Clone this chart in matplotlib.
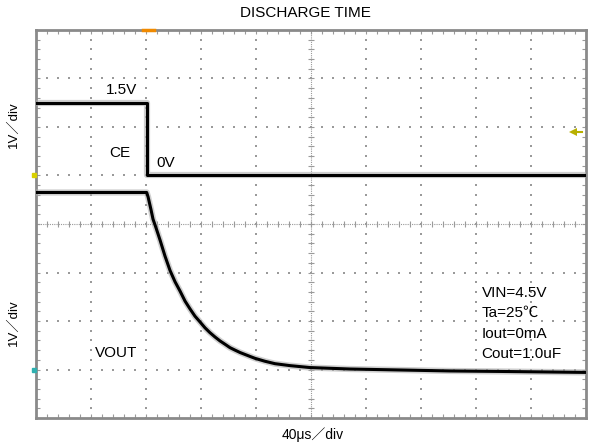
import numpy as np
import matplotlib.pyplot as plt

# =========================
# DATA (time in us, voltage in V)
# =========================
ce_t = [0, 80.5, 80.5, 400]
ce_v = [1.5, 1.5, 0.0, 0.0]

vout_t = [0, 80.5, 81.5, 83.6, 85.1, 87.3, 90.2, 93.8, 97.5, 101.1, 104.7,
          108.4, 112.0, 115.6, 119.3, 122.9, 126.5, 130.2, 133.8, 137.5, 141.1,
          144.7, 148.4, 152.0, 155.6, 159.3, 162.9, 166.5, 173.8, 184.7, 199.3,
          228.4, 264.7, 301.1, 337.5, 400]
vout_v = [3.65, 3.65, 3.56, 3.30, 3.10, 2.92, 2.67, 2.34, 2.04, 1.81, 1.62,
          1.41, 1.25, 1.10, 0.98, 0.86, 0.76, 0.67, 0.59, 0.52, 0.45,
          0.40, 0.35, 0.31, 0.27, 0.23, 0.20, 0.17, 0.12, 0.08, 0.04,
          0.01, -0.01, -0.03, -0.04, -0.06]

CE_ZERO = 5.0      # div position of CE ground
VOUT_ZERO = 1.0    # div position of VOUT ground
US_PER_DIV = 40.0
CE_TRIG = 0.9      # trigger level on CE (V)

conditions = ["VIN=4.5V", "Ta=25℃", "Iout=0mA", "Cout=1.0uF"]

FONT = ["Liberation Sans", "Noto Sans CJK JP", "DejaVu Sans"]
plt.rcParams["font.family"] = FONT

# =========================
# FIGURE
# =========================
fig = plt.figure(figsize=(5.9, 4.48), dpi=100)
ax = fig.add_axes([36 / 590, 30 / 448, 550 / 590, 388 / 448])
ax.set_xlim(0, 10)
ax.set_ylim(0, 8)

grid_col = "#9a9a9a"

# dotted grid (dots every 0.2 div)
sub = np.arange(0, 10.01, 0.2)
for gy in range(1, 8):
    if gy == 4:
        continue
    ax.scatter(sub, np.full_like(sub, gy), s=1.3, marker="s", color=grid_col, lw=0, zorder=1)
sub_y = np.arange(0, 8.01, 0.2)
for gx in range(1, 10):
    if gx == 5:
        continue
    ax.scatter(np.full_like(sub_y, gx), sub_y, s=1.3, marker="s", color=grid_col, lw=0, zorder=1)

# centre cross with tick marks
ax.axhline(4, color=grid_col, lw=0.8, ls=(0, (1, 1)), zorder=1)
ax.axvline(5, color=grid_col, lw=0.8, ls=(0, (1, 1)), zorder=1)
ax.plot(sub, np.full_like(sub, 4), ls="none", marker="|", ms=5, mew=0.8, color=grid_col, zorder=1)
ax.plot(np.full_like(sub_y, 5), sub_y, ls="none", marker="_", ms=5, mew=0.8, color=grid_col, zorder=1)

# frame + inside ticks
for s in ax.spines.values():
    s.set_color("#8a8a8a")
    s.set_linewidth(2.0)
ax.set_xticks(np.arange(0, 11, 1))
ax.set_yticks(np.arange(0, 9, 1))
ax.set_xticks(sub, minor=True)
ax.set_yticks(sub_y, minor=True)
ax.tick_params(which="both", direction="in", length=3, width=0.8, color=grid_col,
               top=True, right=True, labelbottom=False, labelleft=False)

# =========================
# TRACES
# =========================
ce_x = np.array(ce_t) / US_PER_DIV
ce_y = np.array(ce_v) + CE_ZERO
vo_x = np.array(vout_t) / US_PER_DIV
vo_y = np.array(vout_v) + VOUT_ZERO

for x, y in ((ce_x, ce_y), (vo_x, vo_y)):
    ax.plot(x, y, color="#b0b0b0", lw=4.5, alpha=0.6, solid_joinstyle="round", zorder=3)
    ax.plot(x, y, color="black", lw=2.2, solid_joinstyle="round", zorder=4)

# scope markers
ax.plot([143 / 55 - 36 / 55, 154 / 55 - 36 / 55], [8, 8], color="#f08a00", lw=2.5,
        clip_on=False, zorder=5)
ax.plot([-0.03], [CE_ZERO], marker="s", ms=3, color="#d8d000", clip_on=False, zorder=5)
ax.plot([-0.03], [VOUT_ZERO], marker="s", ms=3, color="#30b0b0", clip_on=False, zorder=5)
ax.plot([9.76, 9.93], [CE_TRIG + CE_ZERO] * 2, color="#b8b000", lw=1.5, zorder=5)
ax.plot([9.76], [CE_TRIG + CE_ZERO], marker="<", ms=6, color="#b8b000", mew=0, zorder=5)

# =========================
# TEXT
# =========================
FS = 11
ax.text(62.5 / US_PER_DIV, 6.76, "1.5V", fontsize=FS, ha="center", va="center")
ax.text(61 / US_PER_DIV, 5.46, "CE", fontsize=FS, ha="center", va="center")
ax.text(94.5 / US_PER_DIV, 5.26, "0V", fontsize=FS, ha="center", va="center")
ax.text(58 / US_PER_DIV, 1.33, "VOUT", fontsize=FS, ha="center", va="center")
for i, s in enumerate(conditions):
    ax.text(324 / US_PER_DIV, 2.58 - i * 0.42, s, fontsize=FS, ha="left", va="center")

fig.text(305 / 590, 1 - 13 / 448, "DISCHARGE TIME", fontsize=FS, ha="center", va="center")
fig.text(313 / 590, 1 - 435 / 448, "40μs／div", fontsize=10, ha="center", va="center")
fig.text(14 / 590, 1 - 125 / 448, "1V／div", fontsize=9.5, ha="center", va="center", rotation=90)
fig.text(14 / 590, 1 - 323 / 448, "1V／div", fontsize=9.5, ha="center", va="center", rotation=90)

fig.savefig("out.png", dpi=100)
